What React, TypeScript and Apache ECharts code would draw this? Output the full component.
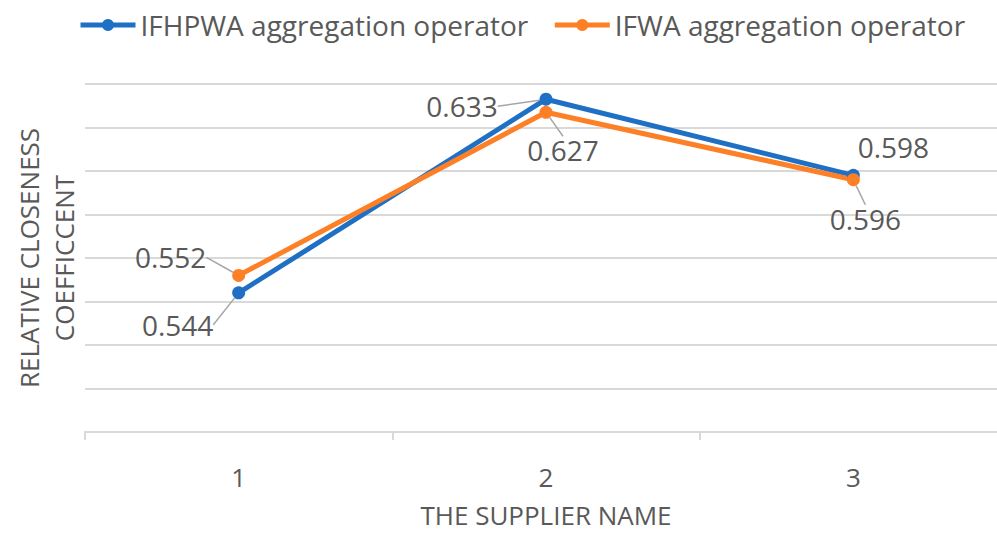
import React, { useEffect, useRef } from "react";
import * as echarts from "echarts";

const categories = ["1", "2", "3"];
const seriesNames = ["IFHPWA aggregation operator", "IFWA aggregation operator"];
const ifhpwaValues = [0.544, 0.633, 0.598];
const ifwaValues = [0.552, 0.627, 0.596];
const yTitle = "RELATIVE CLOSENESS\nCOEFFICCENT";
const xTitle = "THE SUPPLIER NAME";

// label placement (layout only): offset from point centre to label centre
const labelOffsets = [
  [[-61, 32], [-84, 7], [40, -28]],
  [[-68, -18], [17, 38], [12, 39]],
];
const showGuide = [
  [true, true, false],
  [true, true, true],
];

const COLORS = ["#1f70c4", "#fd7f26"];
const FONT = "'Open Sans', sans-serif";
const TEXT = "#595959";

export default function App() {
  const ref = useRef<HTMLDivElement>(null);
  useEffect(() => {
    if (!ref.current) return;
    const chart = echarts.init(ref.current, undefined, { renderer: "svg" });
    const mkSeries = (idx: number, values: number[]) => ({
      name: seriesNames[idx],
      type: "line",
      data: values.map((v, i) => ({
        value: v,
        labelLine: { show: showGuide[idx][i] },
      })),
      symbol: "circle",
      symbolSize: 13,
      itemStyle: { color: COLORS[idx] },
      lineStyle: { color: COLORS[idx], width: 5 },
      label: {
        show: true,
        position: "inside",
        fontSize: 28,
        fontFamily: FONT,
        color: TEXT,
        formatter: (p: any) => p.value.toFixed(3),
      },
      labelLine: {
        show: true,
        lineStyle: { color: "#a6a6a6", width: 1.5 },
      },
      labelLayout: (p: any) => {
        const off = labelOffsets[idx][p.dataIndex];
        return {
          x: p.rect.x + p.rect.width / 2 + off[0],
          y: p.rect.y + p.rect.height / 2 + off[1],
          align: "center",
          verticalAlign: "middle",
        };
      },
    });
    chart.setOption({
      animation: false,
      textStyle: { fontFamily: FONT },
      legend: {
        top: 6,
        left: 73,
        itemWidth: 55,
        itemHeight: 15,
        itemGap: 24,
        lineStyle: { width: 5 },
        textStyle: { fontSize: 28, color: TEXT, fontFamily: FONT },
        data: seriesNames,
      },
      grid: {
        left: 85,
        right: -10,
        top: 84,
        bottom: 101,
        containLabel: false,
        outerBoundsMode: "none",
      },
      xAxis: {
        type: "category",
        data: categories,
        boundaryGap: true,
        axisLine: { lineStyle: { color: "#d9d9d9", width: 2 } },
        axisTick: { show: true, length: 8, lineStyle: { color: "#d9d9d9", width: 2 } },
        axisLabel: { fontSize: 26, color: TEXT, margin: 32, fontFamily: FONT },
        name: xTitle,
        nameLocation: "middle",
        nameGap: 70,
        nameTextStyle: { fontSize: 26, lineHeight: 26, color: TEXT, fontFamily: FONT },
      },
      yAxis: {
        type: "value",
        min: 0.48,
        max: 0.64,
        interval: 0.02,
        axisLabel: { show: false },
        axisLine: { show: false },
        axisTick: { show: false },
        splitLine: { lineStyle: { color: "#d9d9d9", width: 2 } },
        name: yTitle,
        nameLocation: "middle",
        nameRotate: 90,
        nameGap: 4,
        nameTextStyle: { fontSize: 26, color: TEXT, fontFamily: FONT, lineHeight: 35 },
      },
      series: [mkSeries(0, ifhpwaValues), mkSeries(1, ifwaValues)],
    });
    return () => chart.dispose();
  }, []);
  return (
    <div
      ref={ref}
      style={{ position: "fixed", left: 0, top: 0, width: 997, height: 533, background: "#fff" }}
    />
  );
}
